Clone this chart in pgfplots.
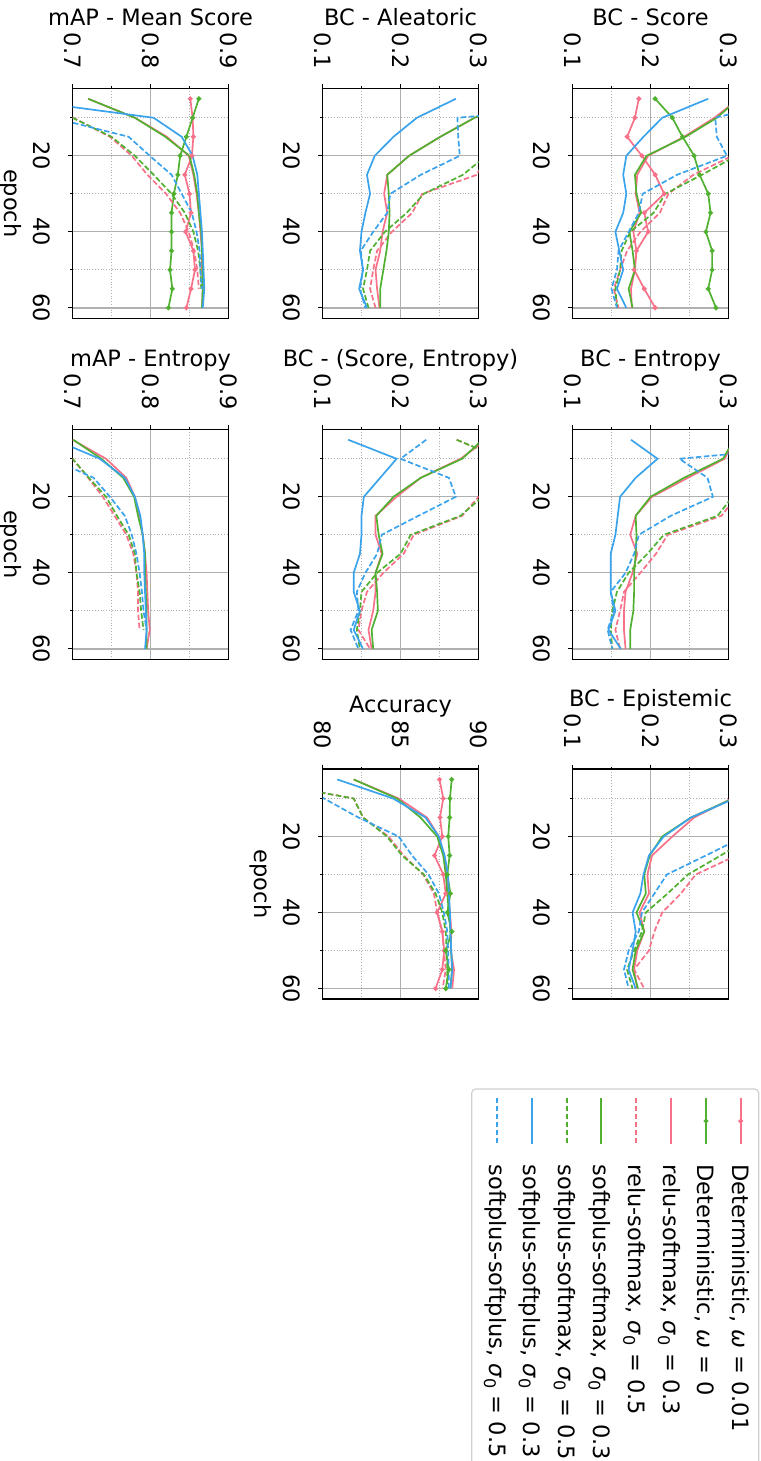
\documentclass[border=0pt]{standalone}
\usepackage{fontspec}
\setmainfont{DejaVu Sans}
\usepackage{pgfplots}
\pgfplotsset{compat=1.18}
\definecolor{cr}{HTML}{F77189}
\definecolor{cg}{HTML}{50B131}
\definecolor{cb}{HTML}{3BA3EC}
\definecolor{gridgray}{HTML}{B0B0B0}
\definecolor{leggray}{HTML}{D0D0D0}
\newcommand{\F}{\fontsize{22.5bp}{27bp}\selectfont}
\newcommand{\sz}{\textit{σ}\raisebox{-0.22em}{\fontsize{16bp}{16bp}\selectfont 0}}
\pgfplotsset{
  det1/.style={color=cr, solid, line width=1.7bp, mark=*, mark size=1.5bp, mark options={solid}},
  det0/.style={color=cg, solid, line width=1.7bp, mark=*, mark size=1.5bp, mark options={solid}},
  rs3/.style={color=cr, solid, line width=1.7bp, no marks},
  rs5/.style={color=cr, line width=1.7bp, dash pattern=on 5.5bp off 2.5bp, no marks},
  ss3/.style={color=cg, solid, line width=1.7bp, no marks},
  ss5/.style={color=cg, line width=1.7bp, dash pattern=on 5.5bp off 2.5bp, no marks},
  pp3/.style={color=cb, solid, line width=1.7bp, no marks},
  pp5/.style={color=cb, line width=1.7bp, dash pattern=on 5.5bp off 2.5bp, no marks},
  panel/.style={
    scale only axis, width=156bp, height=230bp, anchor=north west,
    ymin=2.25, ymax=62.75, y dir=reverse,
    ytick={20,40,60}, minor ytick={10,30,50},
    xtick pos=right, ytick pos=left, xticklabel pos=right,
    tick align=outside,
    major tick length=4.5bp, minor tick length=2.5bp,
    grid=both,
    major grid style={draw=gridgray, line width=1.3bp},
    minor grid style={draw=gridgray, line width=0.9bp, dash pattern=on 1bp off 1.8bp},
    axis line style={line width=1.5bp},
    every tick/.style={black, line width=1.2bp},
    tick label style={font=\F},
    xticklabel style={rotate=-90, anchor=east, inner sep=0pt},
    yticklabel style={rotate=-90, anchor=north, inner sep=0pt},
    xticklabel shift=15bp, yticklabel shift=18bp,
    /pgf/number format/assume math mode=true,
    every axis title/.style={at={(0.5,1)}, anchor=base, yshift=63bp, font=\F},
    every axis y label/.style={at={(-0.327,0.5)}, anchor=north, rotate=-90, inner sep=0pt, font=\F},
  },
  bc/.style={xmin=0.1, xmax=0.3, xtick={0.1,0.2,0.3}, minor xtick={0.15,0.25}},
  map/.style={xmin=0.7, xmax=0.9, xtick={0.7,0.8,0.9}, minor xtick={0.75,0.85}},
}
\begin{document}
\begin{tikzpicture}
\path[use as bounding box] (0,0) rectangle (761bp,-1461bp);

% ---------- mAP - Mean Score ----------
\begin{axis}[panel, map, at={(72.5bp,-88.3bp)}, title={mAP - Mean Score}, ylabel={epoch}]
\addplot[det1] coordinates {(0.851,5)(0.854,10)(0.855,15)(0.853,20)(0.844,25)(0.850,30)(0.852,35)(0.845,40)(0.855,45)(0.857,50)(0.852,55)(0.846,60)};
\addplot[det0] coordinates {(0.862,5)(0.854,10)(0.846,15)(0.838,20)(0.835,25)(0.830,30)(0.827,35)(0.827,40)(0.827,45)(0.825,50)(0.828,55)(0.823,60)};
\addplot[rs3] coordinates {(0.720,5)(0.780,10)(0.821,15)(0.849,20)(0.855,25)(0.859,30)(0.862,35)(0.864,40)(0.866,45)(0.866,50)(0.867,55)(0.866,60)};
\addplot[rs5] coordinates {(0.600,5)(0.701,10)(0.748,15)(0.776,20)(0.796,25)(0.820,30)(0.838,35)(0.849,40)(0.856,45)(0.860,50)(0.862,55)};
\addplot[ss3] coordinates {(0.720,5)(0.780,10)(0.819,15)(0.850,20)(0.856,25)(0.860,30)(0.862,35)(0.865,40)(0.866,45)(0.867,50)(0.867,55)(0.866,60)};
\addplot[ss5] coordinates {(0.600,5)(0.700,10)(0.750,15)(0.780,20)(0.804,25)(0.827,30)(0.844,35)(0.855,40)(0.861,45)(0.864,50)(0.865,55)};
\addplot[pp3] coordinates {(0.620,5)(0.804,10)(0.840,15)(0.854,20)(0.860,25)(0.862,30)(0.864,35)(0.866,40)(0.867,45)(0.868,50)(0.869,55)(0.867,60)};
\addplot[pp5] coordinates {(0.550,5)(0.675,10)(0.772,15)(0.799,20)(0.827,25)(0.840,30)(0.853,35)(0.859,40)(0.863,45)(0.864,50)(0.866,55)};
\end{axis}

% ---------- BC - Aleatoric ----------
\begin{axis}[panel, bc, at={(322.5bp,-88.3bp)}, title={BC - Aleatoric}]
\addplot[rs3] coordinates {(0.36,5)(0.295,10)(0.251,15)(0.211,20)(0.183,25)(0.179,30)(0.183,35)(0.177,40)(0.174,45)(0.168,50)(0.170,55)(0.173,60)};
\addplot[rs5] coordinates {(0.40,5)(0.37,10)(0.34,15)(0.31,20)(0.298,25)(0.228,30)(0.215,35)(0.189,40)(0.170,45)(0.165,50)(0.161,55)(0.168,60)};
\addplot[ss3] coordinates {(0.36,5)(0.295,10)(0.251,15)(0.211,20)(0.183,25)(0.185,30)(0.186,35)(0.185,40)(0.182,45)(0.178,50)(0.174,55)(0.174,60)};
\addplot[ss5] coordinates {(0.40,5)(0.37,10)(0.34,15)(0.31,20)(0.280,25)(0.230,30)(0.208,35)(0.180,40)(0.161,45)(0.157,50)(0.152,55)(0.159,60)};
\addplot[pp3] coordinates {(0.271,5)(0.221,10)(0.191,15)(0.167,20)(0.157,25)(0.161,30)(0.155,35)(0.150,40)(0.148,45)(0.152,50)(0.147,55)(0.157,60)};
\addplot[pp5] coordinates {(0.55,5)(0.273,10)(0.274,15)(0.276,20)(0.226,25)(0.187,30)(0.183,35)(0.165,40)(0.149,45)(0.152,50)(0.148,55)(0.155,60)};
\end{axis}

% ---------- BC - Score ----------
\begin{axis}[panel, bc, at={(572.5bp,-88.3bp)}, title={BC - Score}]
\addplot[det1] coordinates {(0.185,5)(0.180,10)(0.170,15)(0.189,20)(0.206,25)(0.2175,30)(0.192,35)(0.197,40)(0.182,45)(0.179,50)(0.192,55)(0.206,60)};
\addplot[det0] coordinates {(0.206,5)(0.228,10)(0.241,15)(0.256,20)(0.263,25)(0.274,30)(0.277,35)(0.271,40)(0.279,45)(0.279,50)(0.274,55)(0.284,60)};
\addplot[rs3] coordinates {(0.313,5)(0.282,10)(0.243,15)(0.197,20)(0.183,25)(0.181,30)(0.186,35)(0.178,40)(0.182,45)(0.180,50)(0.175,55)(0.176,60)};
\addplot[rs5] coordinates {(0.40,5)(0.37,10)(0.34,15)(0.305,20)(0.255,25)(0.223,30)(0.212,35)(0.187,40)(0.170,45)(0.161,50)(0.153,55)(0.159,60)};
\addplot[ss3] coordinates {(0.313,5)(0.285,10)(0.245,15)(0.195,20)(0.180,25)(0.182,30)(0.188,35)(0.173,40)(0.177,45)(0.180,50)(0.172,55)(0.177,60)};
\addplot[ss5] coordinates {(0.40,5)(0.37,10)(0.34,15)(0.31,20)(0.266,25)(0.219,30)(0.204,35)(0.174,40)(0.163,45)(0.161,50)(0.155,55)(0.157,60)};
\addplot[pp3] coordinates {(0.274,5)(0.215,10)(0.191,15)(0.169,20)(0.165,25)(0.169,30)(0.165,35)(0.155,40)(0.160,45)(0.165,50)(0.157,55)(0.169,60)};
\addplot[pp5] coordinates {(0.38,5)(0.283,10)(0.285,15)(0.298,20)(0.234,25)(0.190,30)(0.185,35)(0.172,40)(0.159,45)(0.157,50)(0.150,55)(0.157,60)};
\end{axis}

% ---------- mAP - Entropy ----------
\begin{axis}[panel, map, at={(72.5bp,-429.3bp)}, title={mAP - Entropy}, ylabel={epoch}]
\addplot[rs3] coordinates {(0.700,5)(0.743,10)(0.769,15)(0.780,20)(0.786,25)(0.790,30)(0.793,35)(0.795,40)(0.796,45)(0.797,50)(0.799,55)(0.795,60)};
\addplot[rs5] coordinates {(0.620,5)(0.700,10)(0.720,15)(0.739,20)(0.754,25)(0.769,30)(0.778,35)(0.782,40)(0.784,45)(0.784,50)(0.786,55)};
\addplot[ss3] coordinates {(0.701,5)(0.737,10)(0.765,15)(0.779,20)(0.784,25)(0.790,30)(0.793,35)(0.793,40)(0.794,45)(0.795,50)(0.795,55)(0.795,60)};
\addplot[ss5] coordinates {(0.620,5)(0.700,10)(0.721,15)(0.743,20)(0.757,25)(0.772,30)(0.780,35)(0.782,40)(0.786,45)(0.788,50)(0.791,55)};
\addplot[pp3] coordinates {(0.677,5)(0.735,10)(0.767,15)(0.780,20)(0.787,25)(0.790,30)(0.792,35)(0.792,40)(0.793,45)(0.794,50)(0.795,55)(0.793,60)};
\addplot[pp5] coordinates {(0.620,5)(0.673,10)(0.727,15)(0.748,20)(0.767,25)(0.776,30)(0.782,35)(0.786,40)(0.789,45)(0.791,50)(0.795,55)};
\end{axis}

% ---------- BC - (Score, Entropy) ----------
\begin{axis}[panel, bc, at={(322.5bp,-429.3bp)}, title={BC - (Score, Entropy)}]
\addplot[rs3] coordinates {(0.310,5)(0.277,10)(0.226,15)(0.195,20)(0.168,25)(0.168,30)(0.176,35)(0.168,40)(0.168,45)(0.165,50)(0.159,55)(0.163,60)};
\addplot[rs5] coordinates {(0.272,5)(0.33,10)(0.34,15)(0.30,20)(0.279,25)(0.217,30)(0.204,35)(0.178,40)(0.157,45)(0.150,50)(0.146,55)(0.161,60)};
\addplot[ss3] coordinates {(0.305,5)(0.279,10)(0.226,15)(0.191,20)(0.169,25)(0.172,30)(0.177,35)(0.168,40)(0.170,45)(0.171,50)(0.163,55)(0.165,60)};
\addplot[ss5] coordinates {(0.272,5)(0.33,10)(0.34,15)(0.305,20)(0.277,25)(0.213,30)(0.200,35)(0.170,40)(0.150,45)(0.148,50)(0.144,55)(0.148,60)};
\addplot[pp3] coordinates {(0.133,5)(0.195,10)(0.174,15)(0.153,20)(0.150,25)(0.150,30)(0.148,35)(0.140,40)(0.140,45)(0.148,50)(0.140,55)(0.152,60)};
\addplot[pp5] coordinates {(0.233,5)(0.200,10)(0.262,15)(0.271,20)(0.223,25)(0.176,30)(0.170,35)(0.155,40)(0.144,45)(0.146,50)(0.136,55)(0.146,60)};
\end{axis}

% ---------- BC - Entropy ----------
\begin{axis}[panel, bc, at={(572.5bp,-429.3bp)}, title={BC - Entropy}]
\addplot[rs3] coordinates {(0.307,5)(0.295,10)(0.248,15)(0.202,20)(0.181,25)(0.174,30)(0.183,35)(0.177,40)(0.168,45)(0.166,50)(0.166,55)(0.168,60)};
\addplot[rs5] coordinates {(0.40,5)(0.37,10)(0.34,15)(0.31,20)(0.291,25)(0.222,30)(0.207,35)(0.187,40)(0.166,45)(0.161,50)(0.155,55)(0.161,60)};
\addplot[ss3] coordinates {(0.307,5)(0.293,10)(0.243,15)(0.200,20)(0.181,25)(0.182,30)(0.181,35)(0.179,40)(0.179,45)(0.178,50)(0.174,55)(0.174,60)};
\addplot[ss5] coordinates {(0.40,5)(0.37,10)(0.34,15)(0.305,20)(0.286,25)(0.217,30)(0.196,35)(0.172,40)(0.157,45)(0.151,50)(0.149,55)(0.151,60)};
\addplot[pp3] coordinates {(0.175,5)(0.209,10)(0.181,15)(0.161,20)(0.158,25)(0.155,30)(0.149,35)(0.149,40)(0.149,45)(0.155,50)(0.146,55)(0.162,60)};
\addplot[pp5] coordinates {(0.50,5)(0.237,10)(0.273,15)(0.280,20)(0.226,25)(0.185,30)(0.179,35)(0.168,40)(0.149,45)(0.153,50)(0.145,55)(0.151,60)};
\end{axis}

% ---------- Accuracy ----------
\begin{axis}[panel, at={(322.5bp,-769bp)}, title={Accuracy}, ylabel={epoch},
  xmin=80, xmax=90, xtick={80,85,90}, minor xtick={82.5,87.5},
  title style={yshift=-6.5bp}]
\addplot[det1] coordinates {(87.50,5)(87.74,10)(87.53,15)(87.68,20)(87.18,25)(87.74,30)(87.90,35)(87.35,40)(87.68,45)(87.80,50)(87.68,55)(87.25,60)};
\addplot[det0] coordinates {(88.28,5)(88.17,10)(88.15,15)(88.06,20)(88.15,25)(88.00,30)(88.20,35)(88.00,40)(88.30,45)(87.90,50)(88.10,55)(87.90,60)};
\addplot[rs3] coordinates {(82.0,5)(84.88,10)(86.70,15)(87.46,20)(87.78,25)(88.00,30)(88.06,35)(88.17,40)(88.26,45)(88.22,50)(88.43,55)(88.32,60)};
\addplot[rs5] coordinates {(75.3,5)(82.0,10)(82.6,15)(84.24,20)(85.20,25)(86.45,30)(87.14,35)(87.35,40)(87.68,45)(87.78,50)(87.90,55)(87.70,60)};
\addplot[ss3] coordinates {(82.0,5)(84.77,10)(86.28,15)(87.35,20)(87.74,25)(87.90,30)(88.00,35)(88.10,40)(88.20,45)(88.25,50)(88.30,55)(88.20,60)};
\addplot[ss5] coordinates {(75.3,5)(82.0,10)(82.6,15)(84.13,20)(85.10,25)(86.50,30)(87.25,35)(87.68,40)(87.90,45)(87.96,50)(88.00,55)(88.00,60)};
\addplot[pp3] coordinates {(80.95,5)(84.52,10)(86.60,15)(87.46,20)(87.83,25)(88.04,30)(88.10,35)(88.17,40)(88.20,45)(88.25,50)(88.32,55)(88.20,60)};
\addplot[pp5] coordinates {(77.0,5)(80.1,10)(82.3,15)(84.88,20)(85.74,25)(86.80,30)(87.46,35)(87.78,40)(88.00,45)(88.05,50)(88.10,55)(88.10,60)};
\end{axis}

% ---------- BC - Epistemic ----------
\begin{axis}[panel, bc, at={(572.5bp,-769bp)}, title={BC - Epistemic}]
\addplot[rs3] coordinates {(0.40,5)(0.304,10)(0.256,15)(0.228,20)(0.202,25)(0.196,30)(0.198,35)(0.186,40)(0.192,45)(0.183,50)(0.179,55)(0.183,60)};
\addplot[rs5] coordinates {(0.40,5)(0.37,10)(0.34,15)(0.33,20)(0.31,25)(0.258,30)(0.239,35)(0.215,40)(0.205,45)(0.198,50)(0.179,55)(0.192,60)};
\addplot[ss3] coordinates {(0.40,5)(0.306,10)(0.252,15)(0.215,20)(0.199,25)(0.192,30)(0.194,35)(0.182,40)(0.192,45)(0.181,50)(0.177,55)(0.184,60)};
\addplot[ss5] coordinates {(0.40,5)(0.37,10)(0.34,15)(0.33,20)(0.290,25)(0.248,30)(0.222,35)(0.194,40)(0.189,45)(0.179,50)(0.170,55)(0.177,60)};
\addplot[pp3] coordinates {(0.40,5)(0.308,10)(0.252,15)(0.217,20)(0.198,25)(0.191,30)(0.187,35)(0.177,40)(0.181,45)(0.177,50)(0.172,55)(0.181,60)};
\addplot[pp5] coordinates {(0.40,5)(0.37,10)(0.34,15)(0.32,20)(0.271,25)(0.221,30)(0.205,35)(0.189,40)(0.185,45)(0.172,50)(0.166,55)(0.172,60)};
\end{axis}

% ---------- Legend (rotated, drawn in its own hidden axis) ----------
\begin{axis}[at={(471.7bp,-1089bp)}, anchor=north west, hide axis, scale only axis,
  width=287bp, height=380bp, xmin=0, xmax=287, ymin=0, ymax=380, y dir=reverse, clip=false]
\draw[leggray, line width=1.2bp, rounded corners=4bp] (axis cs:0,0) rectangle (axis cs:287,380);
\addplot[det1, mark indices={2}] coordinates {(269,8.7)(269,32)(269,55.3)};
\addplot[det0, mark indices={2}] coordinates {(234.3,8.7)(234.3,32)(234.3,55.3)};
\addplot[rs3] coordinates {(199.3,8.7)(199.3,55.3)};
\addplot[rs5] coordinates {(164.3,8.7)(164.3,55.3)};
\addplot[ss3] coordinates {(129.3,8.7)(129.3,55.3)};
\addplot[ss5] coordinates {(95.3,8.7)(95.3,55.3)};
\addplot[pp3] coordinates {(60.3,8.7)(60.3,55.3)};
\addplot[pp5] coordinates {(25.3,8.7)(25.3,55.3)};
\begin{scope}[every node/.style={rotate=-90, anchor=base west, inner sep=0pt, font=\F}]
\node at (axis cs:261.0,75.3) {Deterministic, \textit{ω} = 0.01};
\node at (axis cs:226.2,75.3) {Deterministic, \textit{ω} = 0};
\node at (axis cs:191.4,75.3) {relu-softmax, \sz{} = 0.3};
\node at (axis cs:156.6,75.3) {relu-softmax, \sz{} = 0.5};
\node at (axis cs:121.8,75.3) {softplus-softmax, \sz{} = 0.3};
\node at (axis cs:87.0,75.3) {softplus-softmax, \sz{} = 0.5};
\node at (axis cs:52.2,75.3) {softplus-softplus, \sz{} = 0.3};
\node at (axis cs:17.4,75.3) {softplus-softplus, \sz{} = 0.5};
\end{scope}
\end{axis}
\end{tikzpicture}
\end{document}
